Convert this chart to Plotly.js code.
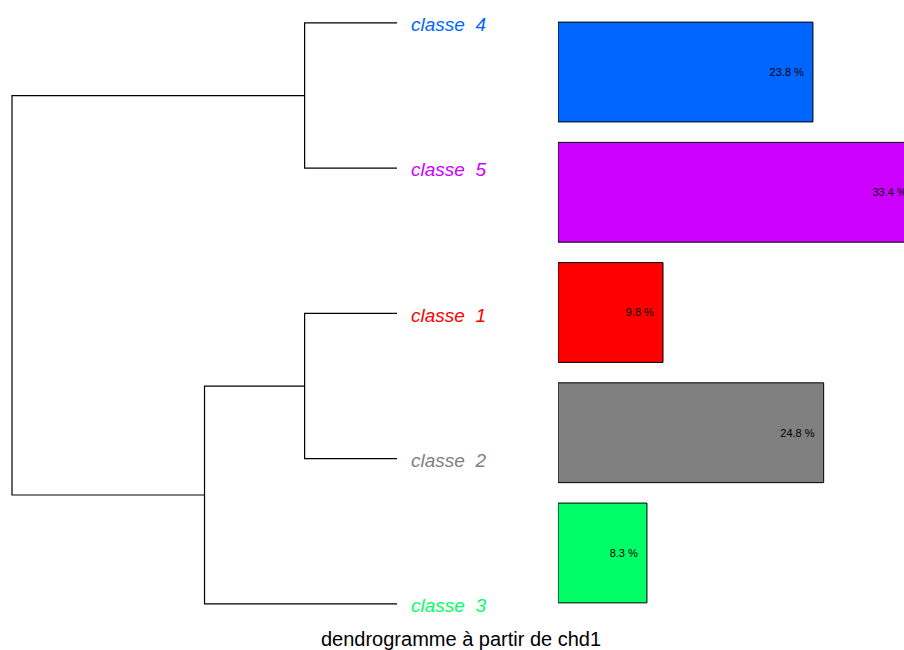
<!DOCTYPE html>
<html>
<head>
<meta charset="utf-8">
<script src="https://cdn.plot.ly/plotly-3.0.1.min.js"></script>
<style>body{margin:0;background:#fff}</style>
</head>
<body>
<div id="plotArea" style="width:904px;height:650px"></div>
<script>
// leaves in display order, top to bottom
var leafLabels = ["classe\u00a0 4", "classe\u00a0 5", "classe\u00a0 1", "classe\u00a0 2", "classe\u00a0 3"];
var leafColors = ["#0066ff", "#cc00ff", "#ff0000", "#808080", "#00ff66"];

// hclust style merges: negative = leaf (1-based), positive = earlier merge
var merges = [[-1, -2], [-3, -4], [2, -5], [1, 3]];
var mergeHeights = [0.24, 0.24, 0.5, 1.0];

// class sizes, same order as leaves
var classPct = [23.8, 33.4, 9.8, 24.8, 8.3];

// leaf y positions: top = 5
var nodeX = [], nodeY = [];
function pos(id) {
    if (id < 0) return {x: 0, y: leafLabels.length + 1 + id};
    return {x: nodeX[id - 1], y: nodeY[id - 1]};
}

var lx = [], ly = [];
merges.forEach(function(m, i) {
    var a = pos(m[0]), b = pos(m[1]), h = mergeHeights[i];
    lx.push(a.x, h, h, b.x, null);
    ly.push(a.y, a.y, b.y, b.y, null);
    nodeX.push(h);
    nodeY.push((a.y + b.y) / 2);
});

var dendro = {
    x: lx, y: ly,
    type: "scatter", mode: "lines",
    line: {color: "#000", width: 1.2},
    hoverinfo: "skip",
    xaxis: "x", yaxis: "y"
};

var bars = {
    x: classPct.slice().reverse(),
    y: leafLabels.slice().reverse(),
    type: "bar", orientation: "h",
    width: 0.83,
    marker: {color: leafColors.slice().reverse(), line: {color: "#000", width: 1}},
    text: classPct.slice().reverse().map(function(v) { return v.toFixed(1) + " %\u00a0\u00a0"; }),
    textposition: "inside",
    insidetextanchor: "end",
    textangle: 0,
    textfont: {family: "Liberation Sans, Arial", size: 11, color: "#000"},
    xaxis: "x2", yaxis: "y2",
    hoverinfo: "skip"
};

var annots = leafLabels.map(function(lab, i) {
    return {
        x: -0.03, y: leafLabels.length - i - 0.012, xref: "x", yref: "y",
        text: lab, showarrow: false, xanchor: "left", yanchor: "middle",
        font: {family: "Liberation Sans, Arial", size: 19, style: "italic", color: leafColors[i]}
    };
});

var hidden = {showgrid: false, zeroline: false, showticklabels: false, ticks: "", showline: false, fixedrange: true};

var layout = {
    width: 904, height: 650,
    margin: {l: 0, r: 0, t: 0, b: 0},
    paper_bgcolor: "#fff", plot_bgcolor: "#fff",
    showlegend: false,
    title: {
        text: "dendrogramme à partir de chd1",
        font: {family: "Liberation Sans, Arial", size: 20, color: "#000"},
        x: 0.51, xanchor: "center", y: 0.017, yanchor: "middle"
    },
    xaxis: Object.assign({domain: [0, 0.6173], range: [1.0312, -0.4182]}, hidden),
    yaxis: Object.assign({range: [0.683, 5.158]}, hidden),
    xaxis2: Object.assign({domain: [0.6173, 1], range: [0, 32.3], anchor: "y2"}, hidden),
    yaxis2: Object.assign({range: [-0.807, 4.599], anchor: "x2", type: "category"}, hidden),
    annotations: annots
};

Plotly.newPlot("plotArea", [dendro, bars], layout, {displayModeBar: false, staticPlot: true});
</script>
</body>
</html>
